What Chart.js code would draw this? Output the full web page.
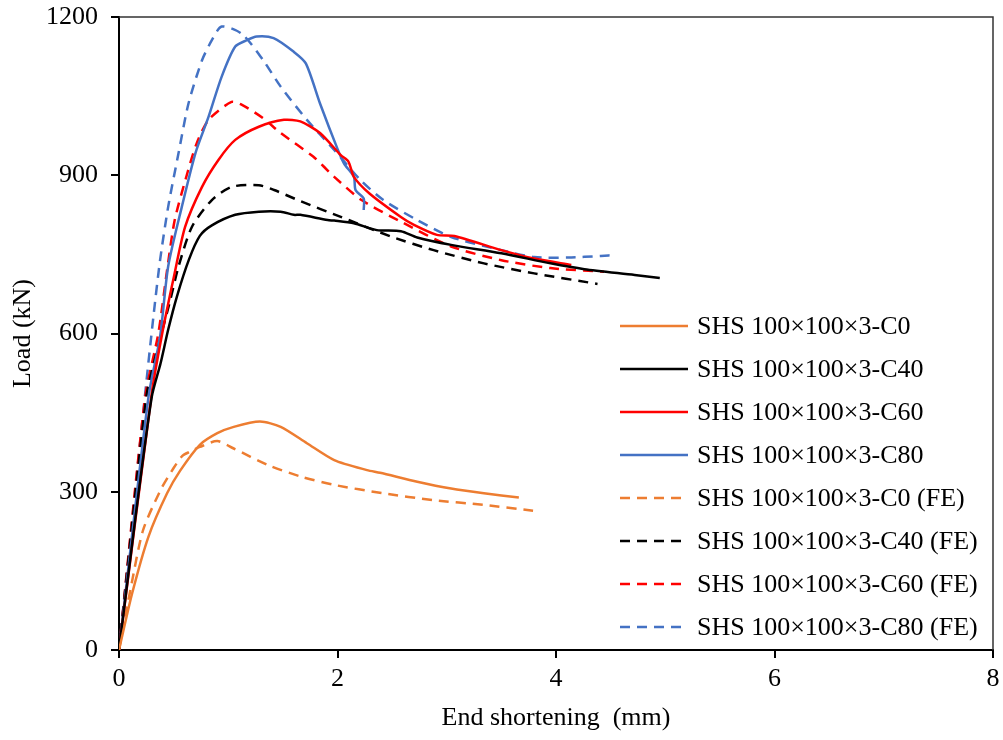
<!DOCTYPE html>
<html>
<head>
<meta charset="utf-8">
<script src="https://cdn.jsdelivr.net/npm/chart.js"></script>
<style>
  html, body { margin: 0; padding: 0; background: #fff; }
</style>
</head>
<body>
<canvas id="loadChart" width="1003" height="740"></canvas>
<script>
// end shortening (mm) / load (kN)
const xC0 = [0, 0.12, 0.27, 0.44, 0.56, 0.74, 0.90, 1.05, 1.29, 1.48, 1.72, 1.97, 2.27, 2.39, 2.73, 3.04, 3.34, 3.66];
const yC0 = [0, 107, 215, 297, 340, 389, 411, 423, 433, 423, 392, 360, 341, 336, 319, 306, 297, 289];

const xC40 = [0, 0.15, 0.30, 0.38, 0.45, 0.53, 0.64, 0.74, 0.85, 1.064, 1.28, 1.48, 1.60, 1.66, 1.91, 1.97, 2.15, 2.36, 2.58, 2.73, 3.04, 3.50, 3.95, 4.26, 4.72, 4.95];
const yC40 = [0, 250, 480, 543, 607, 670, 740, 785, 805, 825, 831, 831, 825, 825, 815, 814, 809, 796, 794, 782, 768, 752, 733, 722, 711, 705];

const xC60 = [0, 0.30, 0.39, 0.50, 0.605, 0.76, 0.91, 1.064, 1.28, 1.51, 1.66, 1.84, 2.03, 2.10, 2.15, 2.29, 2.58, 2.70, 2.91, 3.07, 3.50, 3.80, 4.14];
const yC60 = [0, 487, 594, 705, 802, 878, 929, 967, 992, 1005, 1002, 980, 938, 926, 897, 866, 821, 806, 787, 785, 758, 742, 730];

const xC80 = [0, 0.27, 0.376, 0.45, 0.575, 0.70, 0.82, 0.94, 1.064, 1.17, 1.26, 1.415, 1.60, 1.71, 1.84, 2.0, 2.06, 2.15, 2.165, 2.24, 2.24];
const yC80 = [0, 480, 594, 727, 840, 942, 1011, 1087, 1144, 1156, 1163, 1160, 1134, 1112, 1036, 950, 922, 897, 872, 856, 834];

const xC0fe = [0, 0.11, 0.22, 0.38, 0.50, 0.58, 0.65, 0.74, 0.90, 1.05, 1.36, 1.66, 1.97, 2.42, 2.88, 3.34, 3.79];
const yC0fe = [0, 120, 227, 303, 345, 368, 376, 385, 396, 382, 351, 329, 313, 297, 284, 275, 264];

const xC40fe = [0, 0.25, 0.35, 0.47, 0.545, 0.667, 0.85, 1.03, 1.28, 1.42, 1.66, 2.03, 2.50, 2.88, 3.34, 3.80, 4.38];
const yC40fe = [0, 480, 569, 664, 727, 802, 853, 878, 881, 872, 851, 821, 783, 758, 733, 714, 694];

const xC60fe = [0, 0.24, 0.36, 0.44, 0.51, 0.62, 0.71, 0.82, 1.03, 1.13, 1.32, 1.48, 1.78, 1.97, 2.22, 2.58, 3.04, 3.50, 3.95, 4.44];
const yC60fe = [0, 480, 600, 720, 815, 900, 960, 1005, 1039, 1033, 1008, 980, 935, 897, 853, 812, 765, 739, 724, 717];

const xC80fe = [0, 0.24, 0.315, 0.376, 0.45, 0.545, 0.636, 0.76, 0.85, 0.94, 1.125, 1.32, 1.48, 1.72, 1.97, 2.21, 2.42, 2.73, 3.04, 3.50, 3.80, 4.11, 4.41, 4.55];
const yC80fe = [0, 487, 632, 739, 840, 942, 1036, 1118, 1156, 1182, 1168, 1118, 1068, 1005, 948, 891, 853, 815, 783, 758, 745, 744, 747, 749];

const seriesNames = ["SHS 100×100×3-C0", "SHS 100×100×3-C40", "SHS 100×100×3-C60", "SHS 100×100×3-C80",
  "SHS 100×100×3-C0 (FE)", "SHS 100×100×3-C40 (FE)", "SHS 100×100×3-C60 (FE)", "SHS 100×100×3-C80 (FE)"];
const xTicks = [0, 2, 4, 6, 8];
const yTicks = [0, 300, 600, 900, 1200];

const serif = "'Liberation Serif', 'Times New Roman', serif";
const orange = "#ED7D31", black = "#000000", red = "#FF0000", blue = "#4472C4";

function pts(xs, ys) {
  return xs.map((x, i) => ({ x: x, y: ys[i] }));
}

function line(label, xs, ys, color, dashed) {
  return {
    label: label,
    data: pts(xs, ys),
    borderColor: color,
    backgroundColor: color,
    borderWidth: 2.5,
    borderDash: dashed ? [10, 7] : [],
    pointRadius: 0,
    showLine: true,
    tension: 0.25
  };
}

// top and right edges of the plot box
const frame = {
  id: "frame",
  beforeDatasetsDraw(chart) {
    const a = chart.chartArea, ctx = chart.ctx;
    ctx.save();
    ctx.strokeStyle = "#333";
    ctx.lineWidth = 1.5;
    ctx.beginPath();
    ctx.moveTo(a.left, a.top);
    ctx.lineTo(a.right, a.top);
    ctx.lineTo(a.right, a.bottom);
    ctx.stroke();
    ctx.restore();
  }
};

// legend sits inside the plot, lower right
const insideLegend = {
  id: "insideLegend",
  afterDraw(chart) {
    const ctx = chart.ctx;
    ctx.save();
    ctx.font = "26px " + serif;
    ctx.textBaseline = "middle";
    chart.data.datasets.forEach((ds, i) => {
      const y = 326 + i * 43;
      ctx.strokeStyle = ds.borderColor;
      ctx.lineWidth = 2.5;
      ctx.setLineDash(ds.borderDash);
      ctx.beginPath();
      ctx.moveTo(620, y);
      ctx.lineTo(688, y);
      ctx.stroke();
      ctx.setLineDash([]);
      ctx.fillStyle = "#000";
      ctx.fillText(ds.label, 697, y + 1);
    });
    ctx.restore();
  }
};

new Chart("loadChart", {
  type: "scatter",
  data: {
    datasets: [
      line(seriesNames[0], xC0, yC0, orange, false),
      line(seriesNames[1], xC40, yC40, black, false),
      line(seriesNames[2], xC60, yC60, red, false),
      line(seriesNames[3], xC80, yC80, blue, false),
      line(seriesNames[4], xC0fe, yC0fe, orange, true),
      line(seriesNames[5], xC40fe, yC40fe, black, true),
      line(seriesNames[6], xC60fe, yC60fe, red, true),
      line(seriesNames[7], xC80fe, yC80fe, blue, true)
    ]
  },
  options: {
    responsive: false,
    animation: false,
    layout: { padding: { top: 17, right: 10, left: 0, bottom: 0 } },
    plugins: {
      legend: { display: false },
      tooltip: { enabled: false }
    },
    scales: {
      x: {
        type: "linear",
        min: 0,
        max: 8,
        afterBuildTicks: s => { s.ticks = xTicks.map(v => ({ value: v })); },
        afterFit: s => { s.height = 90; s.paddingLeft = 0; s.paddingRight = 0; },
        ticks: { color: "#000", font: { family: serif, size: 26 }, padding: 6, callback: v => String(v) },
        grid: { drawOnChartArea: false, tickLength: 8, color: "#000", lineWidth: 2 },
        border: { color: "#000", width: 2 },
        title: { display: true, text: "End shortening  (mm)", color: "#000",
                 font: { family: serif, size: 26 }, padding: { top: 0, bottom: 6 } }
      },
      y: {
        type: "linear",
        min: 0,
        max: 1200,
        afterBuildTicks: s => { s.ticks = yTicks.map(v => ({ value: v })); },
        afterFit: s => { s.width = 119; s.paddingTop = 0; s.paddingBottom = 0; },
        ticks: { color: "#000", font: { family: serif, size: 26 }, padding: 13, callback: v => String(v) },
        grid: { drawOnChartArea: false, tickLength: 8, color: "#000", lineWidth: 2 },
        border: { color: "#000", width: 2 },
        title: { display: true, text: "Load (kN)", color: "#000",
                 font: { family: serif, size: 26 }, padding: { top: 8, bottom: 0 } }
      }
    }
  },
  plugins: [frame, insideLegend]
});
</script>
</body>
</html>
